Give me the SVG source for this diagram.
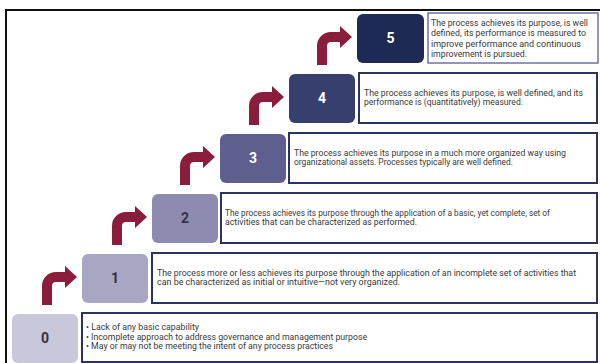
<svg xmlns="http://www.w3.org/2000/svg" xmlns:xlink="http://www.w3.org/1999/xlink" width="600" height="363" viewBox="0 0 600 363">
  <style>
    .sq { stroke: none; }
    .num { font-family: Roboto, "Liberation Sans", sans-serif; font-size: 14px; font-weight: 700; text-anchor: middle; }
    .num.dark { fill: #333340; }
    .num.light { fill: #ffffff; }
    .desc { fill: #ffffff; stroke: #2c3262; stroke-width: 2; }
    .txt { font-family: Roboto, "Liberation Sans", sans-serif; font-size: 8.5px; fill: #3a3a3a; }
    .txt5 { font-family: Roboto, "Liberation Sans", sans-serif; font-size: 9.2px; fill: #3a3a3a; }
    .arrow { fill: #8a1c3c; }
  </style>
  <defs>
    <!-- bent "step up" arrow; origin is the top-left corner of the target level square -->
    <path id="stepArrow" d="M -40,51 V 32 A 14 14 0 0 1 -26,18 H -17 V 12 L -5,23 L -17,34 V 28 H -26 A 4 4 0 0 0 -30,32 V 51 Z"/>
  </defs>

  <rect width="600" height="363" fill="#ffffff"/>
  <!-- outer frame -->
  <path d="M 6,363 V 10 H 600" fill="none" stroke="#111111" stroke-width="2"/>

  <g id="connectors" class="arrow">
    <use xlink:href="#stepArrow" transform="translate(82,254)"/>
    <use xlink:href="#stepArrow" transform="translate(152,194)"/>
    <use xlink:href="#stepArrow" transform="translate(220,134)"/>
    <use xlink:href="#stepArrow" transform="translate(289,74)"/>
    <use xlink:href="#stepArrow" transform="translate(357,14)"/>
  </g>

  <g id="level0">
    <rect class="sq" x="12" y="314" width="66" height="49" rx="6" fill="#c8c8da"/>
    <text class="num dark" x="45" y="343">0</text>
    <rect class="desc" x="82" y="313" width="515" height="49"/>
    <text class="txt" x="86" y="330" textLength="113" lengthAdjust="spacingAndGlyphs">• Lack of any basic capability</text>
    <text class="txt" x="86" y="339.5" textLength="281" lengthAdjust="spacingAndGlyphs">• Incomplete approach to address governance and management purpose</text>
    <text class="txt" x="86" y="349" textLength="247" lengthAdjust="spacingAndGlyphs">• May or may not be meeting the intent of any process practices</text>
  </g>

  <g id="level1">
    <rect class="sq" x="82" y="254" width="66" height="49" rx="6" fill="#a8a7c3"/>
    <text class="num dark" x="115" y="283">1</text>
    <rect class="desc" x="152" y="253" width="445" height="50"/>
    <text class="txt" x="157" y="275.5" textLength="419" lengthAdjust="spacingAndGlyphs">The process more or less achieves its purpose through the application of an incomplete set of activities that</text>
    <text class="txt" x="157" y="284.5" textLength="243" lengthAdjust="spacingAndGlyphs">can be characterized as initial or intuitive—not very organized.</text>
  </g>

  <g id="level2">
    <rect class="sq" x="152" y="194" width="66" height="49" rx="6" fill="#8d8baf"/>
    <text class="num dark" x="185" y="223">2</text>
    <rect class="desc" x="221" y="193" width="376" height="50"/>
    <text class="txt" x="225" y="215.5" textLength="325" lengthAdjust="spacingAndGlyphs">The process achieves its purpose through the application of a basic, yet complete, set of</text>
    <text class="txt" x="225" y="224.5" textLength="192" lengthAdjust="spacingAndGlyphs">activities that can be characterized as performed.</text>
  </g>

  <g id="level3">
    <rect class="sq" x="220" y="134" width="66" height="49" rx="6" fill="#5e5f8e"/>
    <text class="num light" x="253" y="163">3</text>
    <rect class="desc" x="289" y="133" width="308" height="50"/>
    <text class="txt" x="294" y="155.5" textLength="272" lengthAdjust="spacingAndGlyphs">The process achieves its purpose in a much more organized way using</text>
    <text class="txt" x="294" y="164.5" textLength="219" lengthAdjust="spacingAndGlyphs">organizational assets. Processes typically are well defined.</text>
  </g>

  <g id="level4">
    <rect class="sq" x="289" y="74" width="66" height="49" rx="6" fill="#373f6f"/>
    <text class="num light" x="322" y="103">4</text>
    <rect class="desc" x="359" y="73" width="238" height="50"/>
    <text class="txt" x="364" y="95.5" textLength="219" lengthAdjust="spacingAndGlyphs">The process achieves its purpose, is well defined, and its</text>
    <text class="txt" x="364" y="104.5" textLength="159" lengthAdjust="spacingAndGlyphs">performance is (quantitatively) measured.</text>
  </g>

  <g id="level5">
    <rect class="sq" x="357" y="14" width="67" height="49" rx="6" fill="#1f2956"/>
    <text class="num light" x="390.5" y="43">5</text>
    <rect class="desc" x="428" y="13" width="170" height="50" style="stroke:#6f72a3;stroke-width:1.5"/>
    <text class="txt5" x="431" y="25.5" textLength="157" lengthAdjust="spacingAndGlyphs">The process achieves its purpose, is well</text>
    <text class="txt5" x="431" y="36" textLength="155" lengthAdjust="spacingAndGlyphs">defined, its performance is measured to</text>
    <text class="txt5" x="431" y="46.5" textLength="150" lengthAdjust="spacingAndGlyphs">improve performance and continuous</text>
    <text class="txt5" x="431" y="57" textLength="96" lengthAdjust="spacingAndGlyphs">improvement is pursued.</text>
  </g>
</svg>
